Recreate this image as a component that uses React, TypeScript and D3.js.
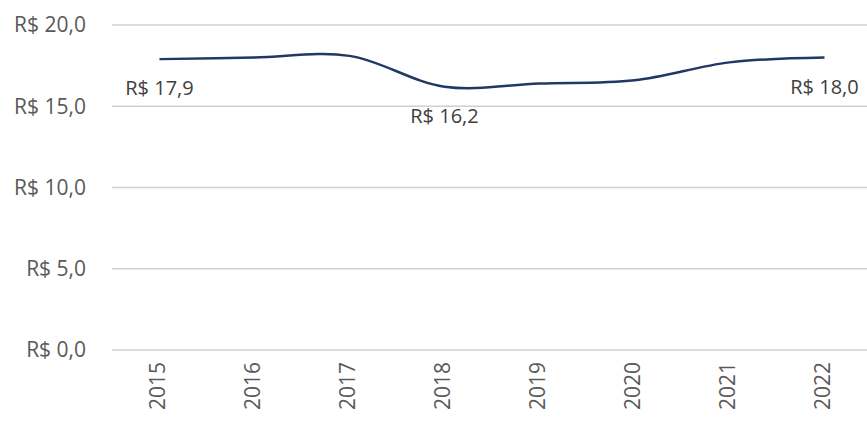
import React, { useEffect, useRef } from "react";
import * as d3 from "d3";

const years = ["2015", "2016", "2017", "2018", "2019", "2020", "2021", "2022"];
const values = [17.9, 18.0, 18.1, 16.2, 16.4, 16.6, 17.7, 18.0];
const labeledYears = ["2015", "2018", "2022"];
const yTicks = [0, 5, 10, 15, 20];

const fmt = (v: number) => "R$ " + v.toFixed(1).replace(".", ",");

export default function App() {
  const svgRef = useRef<SVGSVGElement>(null);

  useEffect(() => {
    const svg = d3.select(svgRef.current);
    svg.selectAll("*").remove();

    const width = 867;
    const height = 421;
    const margin = { top: 25, right: -5, bottom: 71, left: 112 };

    const x = d3
      .scaleBand()
      .domain(years)
      .range([margin.left, width - margin.right]);

    const y = d3
      .scaleLinear()
      .domain([0, 20])
      .range([height - margin.bottom, margin.top]);

    const font = "Open Sans, sans-serif";

    // gridlines
    svg
      .append("g")
      .selectAll("line")
      .data(yTicks)
      .enter()
      .append("line")
      .attr("x1", margin.left)
      .attr("x2", width)
      .attr("y1", (d) => y(d))
      .attr("y2", (d) => y(d))
      .attr("stroke", "#d0d0d0")
      .attr("stroke-width", 1.5);

    // y labels
    svg
      .append("g")
      .selectAll("text")
      .data(yTicks)
      .enter()
      .append("text")
      .attr("x", 86)
      .attr("y", (d) => y(d))
      .attr("dy", "0.35em")
      .attr("text-anchor", "end")
      .style("font-family", font)
      .style("font-size", "21px")
      .style("fill", "#595959")
      .text((d) => fmt(d));

    // x labels
    svg
      .append("g")
      .selectAll("text")
      .data(years)
      .enter()
      .append("text")
      .attr(
        "transform",
        (d) => `translate(${x(d)! + x.bandwidth() / 2 + 5},362) rotate(-90)`
      )
      .attr("text-anchor", "end")
      .style("font-family", font)
      .style("font-size", "21px")
      .style("fill", "#595959")
      .text((d) => d);

    const pts = years.map((yr, i) => ({ yr, v: values[i] }));

    const line = d3
      .line<{ yr: string; v: number }>()
      .x((d) => x(d.yr)! + x.bandwidth() / 2)
      .y((d) => y(d.v))
      .curve(d3.curveCatmullRom.alpha(0.5));

    svg
      .append("path")
      .datum(pts)
      .attr("d", line)
      .attr("fill", "none")
      .attr("stroke", "#203864")
      .attr("stroke-width", 2.5);

    // data labels
    svg
      .append("g")
      .selectAll("text")
      .data(pts.filter((p) => labeledYears.includes(p.yr)))
      .enter()
      .append("text")
      .attr("x", (d) => x(d.yr)! + x.bandwidth() / 2)
      .attr("y", (d) => y(d.v) + 29)
      .attr("dy", "0.35em")
      .attr("text-anchor", "middle")
      .style("font-family", font)
      .style("font-size", "20px")
      .style("fill", "#404040")
      .text((d) => fmt(d.v));
  }, []);

  return (
    <div style={{ position: "absolute", left: 0, top: 0 }}>
      <svg ref={svgRef} width={867} height={421} style={{ display: "block" }}></svg>
    </div>
  );
}
